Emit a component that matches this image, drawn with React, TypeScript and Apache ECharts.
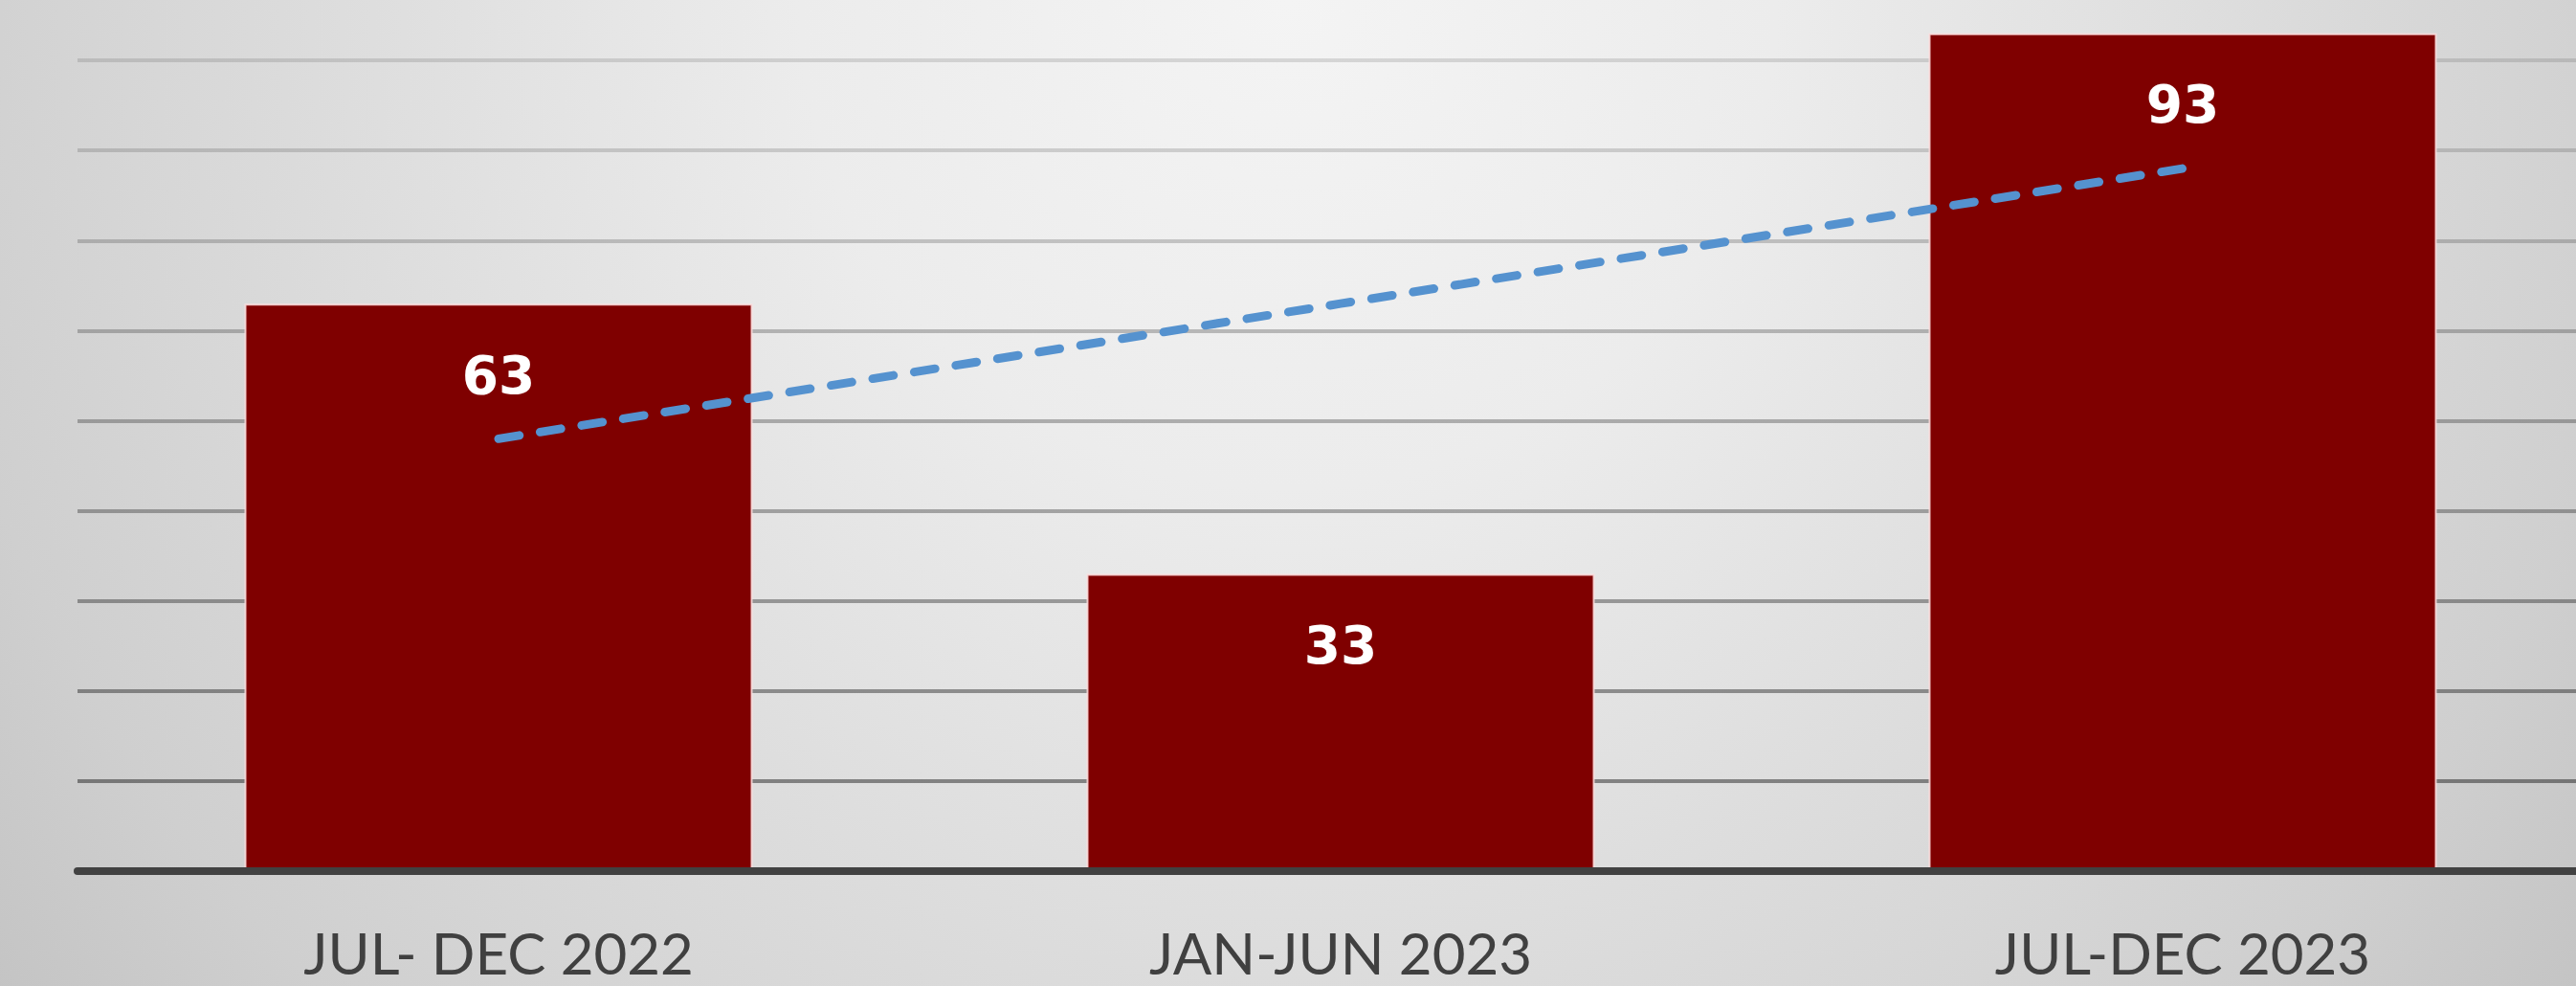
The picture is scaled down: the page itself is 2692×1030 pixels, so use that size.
import React, { useEffect, useRef } from "react";
import * as echarts from "echarts";

const categories = ["JUL- DEC 2022", "JAN-JUN 2023", "JUL-DEC 2023"];
const barValues = [63, 33, 93];
const trendValues = [48, 63, 78];
const yMin = 0;
const yMax = 100;
const yInterval = 10;

const W = 2692;
const H = 1030;
const OFF_TOP = 31;
const CW = 2730;
const CH = H + OFF_TOP;

const gridColors = [
  "rgba(0,0,0,0.45)",
  "rgba(0,0,0,0.42)",
  "rgba(0,0,0,0.38)",
  "rgba(0,0,0,0.34)",
  "rgba(0,0,0,0.30)",
  "rgba(0,0,0,0.27)",
  "rgba(0,0,0,0.23)",
  "rgba(0,0,0,0.19)",
  "rgba(0,0,0,0.15)",
  "rgba(0,0,0,0.12)",
  "rgba(0,0,0,0.10)",
];

export default function App() {
  const ref = useRef<HTMLDivElement>(null);
  useEffect(() => {
    if (!ref.current) return;
    const chart = echarts.init(ref.current, undefined, { renderer: "svg" });
    chart.setOption({
      animation: false,
      graphic: {
        elements: [
          {
            type: "rect",
            z: -100,
            silent: true,
            shape: { x: 0, y: 0, width: CW, height: CH },
            style: {
              fill: {
                type: "radial",
                x: 1346,
                y: OFF_TOP,
                r: 1700,
                global: true,
                colorStops: [
                  { offset: 0, color: "#f4f4f4" },
                  { offset: 0.3, color: "#ececec" },
                  { offset: 0.6, color: "#dcdcdc" },
                  { offset: 0.85, color: "#cfcfcf" },
                  { offset: 1, color: "#c4c4c4" },
                ],
              },
            },
          },
        ],
      },
      grid: { left: 81, width: 2640, top: 0, height: 941 },
      xAxis: {
        type: "category",
        data: categories,
        boundaryGap: true,
        z: 10,
        axisLine: { show: true, lineStyle: { color: "#414141", width: 8 } },
        axisTick: { show: false },
        axisLabel: {
          color: "#404040",
          fontFamily: "Lato",
          fontSize: 60,
          lineHeight: 60,
          margin: 55,
        },
      },
      yAxis: {
        type: "value",
        min: yMin,
        max: yMax,
        interval: yInterval,
        axisLine: { show: false },
        axisTick: { show: false },
        axisLabel: { show: false },
        splitLine: { show: true, lineStyle: { color: gridColors, width: 4 } },
      },
      series: [
        {
          type: "bar",
          data: barValues,
          barWidth: 531,
          itemStyle: {
            color: "#7f0000",
            borderColor: "rgba(255,225,225,0.85)",
            borderWidth: 2,
          },
          label: {
            show: true,
            position: "insideTop",
            distance: 47,
            color: "#ffffff",
            fontFamily: "DejaVu Sans",
            fontWeight: "bold",
            fontSize: 55,
          },
        },
        {
          type: "line",
          data: trendValues,
          symbol: "none",
          lineStyle: {
            color: "#5592cf",
            width: 9,
            type: [22, 22],
            cap: "round",
          },
        },
      ],
    });
    return () => chart.dispose();
  }, []);
  return (
    <div
      ref={ref}
      style={{ position: "fixed", left: 0, top: -OFF_TOP, width: CW, height: CH }}
    />
  );
}
